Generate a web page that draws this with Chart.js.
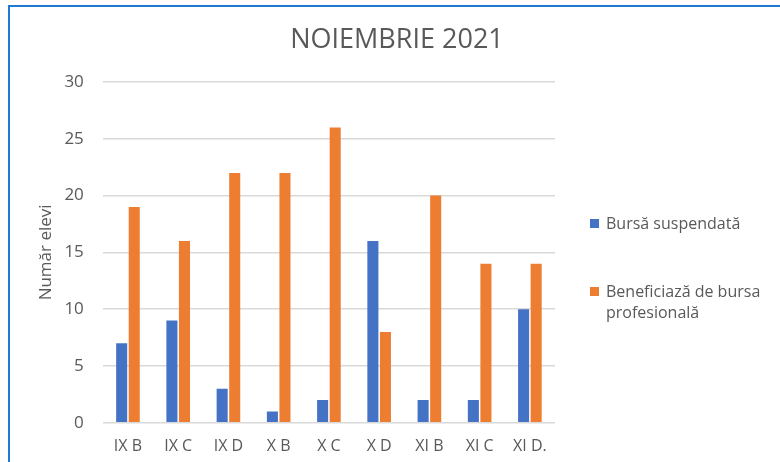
<!DOCTYPE html>
<html>
<head>
<meta charset="utf-8">
<script src="https://cdn.jsdelivr.net/npm/chart.js@4.4.0/dist/chart.umd.min.js"></script>
<style>
    html, body { margin: 0; padding: 0; background: #fff; }
    body { width: 780px; height: 462px; position: relative; overflow: hidden; font-family: 'Open Sans', sans-serif; }
    #frame { position: absolute; left: 8px; top: 5px; width: 900px; height: 600px; border-left: 2px solid #1f7bd2; border-top: 2px solid #1f7bd2; }
    #wrap { position: absolute; left: 14px; top: 0; width: 766px; height: 462px; }
    #legend { position: absolute; left: 590px; top: 213px; width: 180px; color: #595959; font-size: 16px; line-height: 21px; }
    .item { position: relative; padding-left: 16px; margin-bottom: 47px; }
    .box { position: absolute; left: 0; top: 6px; width: 9px; height: 9px; }
</style>
</head>
<body>
<div id="frame"></div>
<div id="wrap"><canvas id="chart"></canvas></div>
<div id="legend"></div>
<script>
    // Categories and values
    const classes = ['IX B', 'IX C', 'IX D', 'X B', 'X C', 'X D', 'XI B', 'XI C', 'XI D.'];
    const suspended = [7, 9, 3, 1, 2, 16, 2, 2, 10];
    const professional = [19, 16, 22, 22, 26, 8, 20, 14, 14];
    const seriesNames = ['Bursă suspendată', 'Beneficiază de bursa profesională'];
    const seriesColors = ['#4472c4', '#ed7d31'];
    const chartTitle = 'NOIEMBRIE 2021';

    const textColor = '#595959';

    // Title centred on the whole box, not only on the plot area
    const boxTitle = {
        id: 'boxTitle',
        afterDraw(chart) {
            const ctx = chart.ctx;
            ctx.save();
            ctx.fillStyle = textColor;
            ctx.font = '27px "Open Sans"';
            ctx.textAlign = 'center';
            ctx.textBaseline = 'middle';
            ctx.fillText(chartTitle, chart.width / 2, 40);
            ctx.restore();
        }
    };

    const chart = new Chart(document.getElementById('chart'), {
        type: 'bar',
        data: {
            labels: classes,
            datasets: [
                { label: seriesNames[0], data: suspended, backgroundColor: seriesColors[0] },
                { label: seriesNames[1], data: professional, backgroundColor: seriesColors[1] }
            ]
        },
        options: {
            responsive: true,
            maintainAspectRatio: false,
            animation: false,
            categoryPercentage: 0.5,
            barPercentage: 0.88,
            layout: { padding: { left: 22, right: 225, top: 82, bottom: 0 } },
            plugins: {
                legend: { display: false },
                tooltip: { enabled: false }
            },
            scales: {
                x: {
                    grid: { display: false },
                    border: { display: false },
                    ticks: { color: textColor, font: { family: 'Open Sans', size: 16 }, padding: 6 }
                },
                y: {
                    min: 0,
                    max: 30,
                    ticks: { stepSize: 5, color: textColor, font: { family: 'Open Sans', size: 17 }, padding: 19 },
                    grid: { color: '#d9d9d9', lineWidth: 1.5, drawTicks: false },
                    border: { display: false },
                    title: {
                        display: true,
                        text: 'Număr elevi',
                        color: textColor,
                        font: { family: 'Open Sans', size: 17 },
                        padding: { top: 0, bottom: -11 }
                    }
                }
            }
        },
        plugins: [boxTitle]
    });

    // Legend as HTML so the long label can wrap like in the original
    const legend = document.getElementById('legend');
    chart.data.datasets.forEach(function (ds) {
        const item = document.createElement('div');
        item.className = 'item';
        item.innerHTML = '<span class="box" style="background:' + ds.backgroundColor + '"></span>' + ds.label;
        legend.appendChild(item);
    });
</script>
</body>
</html>
